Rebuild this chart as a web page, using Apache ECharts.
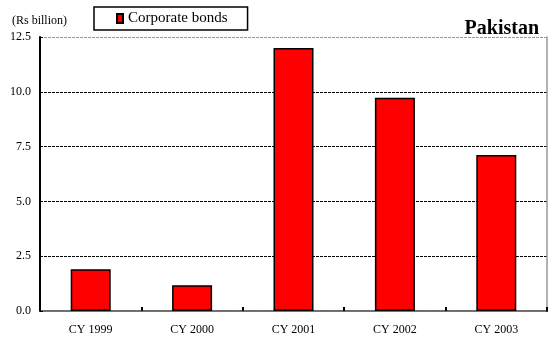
<!DOCTYPE html>
<html>
<head>
<meta charset="utf-8">
<script src="https://cdn.jsdelivr.net/npm/echarts@6/dist/echarts.min.js"></script>
<style>
  html, body { margin: 0; padding: 0; background: #fff; }
  #chart { width: 548px; height: 338px; }
</style>
</head>
<body>
<div id="chart"></div>
<script>
// Corporate bond issuance, Pakistan (Rs billion)
const years = ['CY 1999', 'CY 2000', 'CY 2001', 'CY 2002', 'CY 2003'];
const corporateBonds = [1.91, 1.18, 12.0, 9.73, 7.12];
const seriesName = 'Corporate bonds';

const serif = '"Liberation Serif", "Times New Roman", serif';

const chart = echarts.init(document.getElementById('chart'), null, { renderer: 'canvas' });

chart.setOption({
  animation: false,
  backgroundColor: '#fff',
  grid: { left: 40, right: 1, top: 37, bottom: 27, containLabel: false },
  title: [
    {
      text: '(Rs billion)',
      left: 7, top: 10,
      textStyle: { fontFamily: serif, fontSize: 12, fontWeight: 'normal', color: '#000' }
    },
    {
      text: 'Pakistan',
      right: 4, top: 14,
      textStyle: { fontFamily: serif, fontSize: 20, fontWeight: 'bold', color: '#000' }
    }
  ],
  legend: {
    left: 94, top: 7,
    padding: [4, 20, 4, 22],
    borderColor: '#000',
    borderWidth: 1.5,
    itemWidth: 6, itemHeight: 9,
    itemGap: 6,
    icon: 'rect',
    textStyle: { fontFamily: serif, fontSize: 15, color: '#000' },
    data: [seriesName]
  },
  xAxis: [
    {
      type: 'category',
      data: years,
      axisLine: { lineStyle: { color: '#000', width: 2 } },
      axisTick: { show: true, inside: true, length: 4, alignWithLabel: false, lineStyle: { color: '#000', width: 2 } },
      axisLabel: { fontFamily: serif, fontSize: 12, color: '#000', margin: 13 },
      splitLine: { show: false }
    },
    {
      type: 'category',
      data: years,
      position: 'top',
      axisLine: { lineStyle: { color: '#999', width: 1.5, type: [2, 1] } },
      axisTick: { show: false },
      axisLabel: { show: false }
    }
  ],
  yAxis: [
    {
      type: 'value',
      min: 0, max: 12.5, interval: 2.5,
      axisLine: { show: true, lineStyle: { color: '#000', width: 2 } },
      axisTick: { show: true, inside: true, length: 3, lineStyle: { color: '#000', width: 1 } },
      axisLabel: {
        fontFamily: serif, fontSize: 12, color: '#000', margin: 9,
        formatter: v => v.toFixed(1)
      },
      // the topmost line is the pale frame edge, the others are dark dashed gridlines
      splitLine: {
        show: true,
        lineStyle: { color: ['#000', '#000', '#000', '#000', '#000', '#999'], width: 1, type: [3, 1] }
      }
    },
    {
      type: 'value',
      position: 'right',
      min: 0, max: 12.5, interval: 2.5,
      axisLine: { show: true, lineStyle: { color: '#999', width: 1.5 } },
      axisTick: { show: false },
      axisLabel: { show: false },
      splitLine: { show: false }
    }
  ],
  series: [
    {
      name: seriesName,
      type: 'bar',
      xAxisIndex: 0,
      yAxisIndex: 0,
      data: corporateBonds,
      barWidth: 40,
      itemStyle: { color: '#ff0000', borderColor: '#000', borderWidth: 1.5 }
    }
  ]
});
</script>
</body>
</html>
